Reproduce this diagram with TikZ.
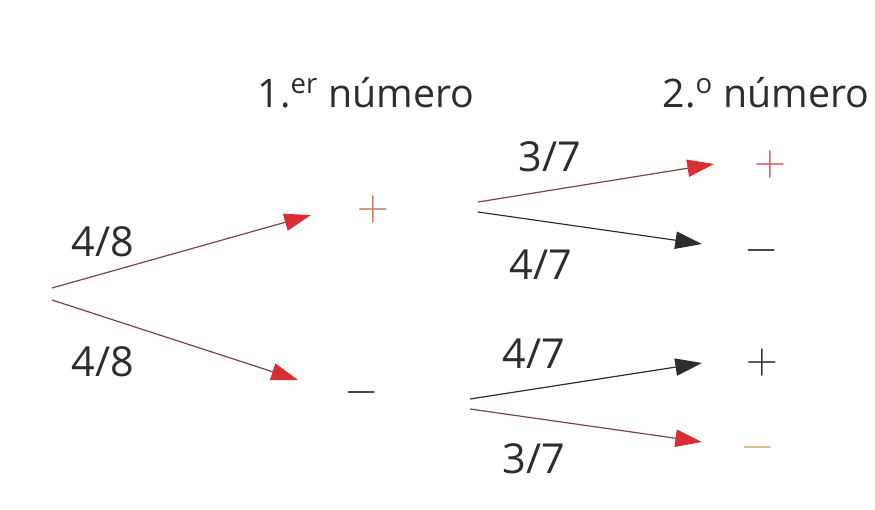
\documentclass[tikz,border=0pt]{standalone}
\usepackage{fix-cm}
\usepackage{fontspec}
\setmainfont{Open Sans}
\usetikzlibrary{arrows.meta}
\definecolor{tipred}{RGB}{214,48,52}
\definecolor{shaftred}{RGB}{120,70,70}
\definecolor{signorange}{RGB}{200,120,90}
\definecolor{signred}{RGB}{210,90,100}
\definecolor{signtan}{RGB}{222,180,130}
\definecolor{ink}{RGB}{45,45,45}
\begin{document}
\begin{tikzpicture}[x=0.75pt,y=-0.75pt,
  every node/.style={font=\fontsize{31}{36}\selectfont,text=ink},
  head/.style={anchor=base west,font=\fontsize{29.5}{34}\selectfont},
  sign/.style={inner sep=0pt,font=\fontsize{33}{33}\selectfont},
  redarrow/.style={draw=shaftred,line width=0.9pt,
    -{Triangle[length=20pt,width=13pt,color=tipred]}},
  blackarrow/.style={draw=ink,line width=0.9pt,
    -{Triangle[length=20pt,width=13pt]}}]
  \useasboundingbox (0,0) rectangle (875,510);

  % column heads
  \node[head] (head1) at (253,108) {1.\textsuperscript{er} número};
  \node[head] (head2) at (658,108) {2.\textsuperscript{o} número};

  % signs
  \node[sign,text=signorange] (p) at (373,209) {$+$};
  \node[sign] (m) at (362,392) {$-$};
  \node[sign,text=signred] (pp) at (770,165) {$+$};
  \node[sign] (pm) at (762,250) {$-$};
  \node[sign] (mp) at (762,362) {$+$};
  \node[sign,text=signtan] (mm) at (758,447) {$-$};

  % arrow ends
  \coordinate (root up) at (52,288);
  \coordinate (root down) at (52,300);
  \coordinate (to p) at (311,215);
  \coordinate (to m) at (298,380);
  \coordinate (p up) at (478,202);
  \coordinate (p down) at (478,212);
  \coordinate (to pp) at (714,164);
  \coordinate (to pm) at (702,244);
  \coordinate (m up) at (470,399);
  \coordinate (m down) at (470,409);
  \coordinate (to mp) at (702,363);
  \coordinate (to mm) at (702,442);

  \draw[redarrow] (root up) -- (to p);
  \draw[redarrow] (root down) -- (to m);
  \draw[redarrow] (p up) -- (to pp);
  \draw[blackarrow] (p down) -- (to pm);
  \draw[blackarrow] (m up) -- (to mp);
  \draw[redarrow] (m down) -- (to mm);

  % probabilities
  \node (w p) at (103,242) {4/8};
  \node (w m) at (103,362) {4/8};
  \node (w pp) at (550,157) {3/7};
  \node (w pm) at (541,265) {4/7};
  \node (w mp) at (534,354) {4/7};
  \node (w mm) at (534,459) {3/7};
\end{tikzpicture}
\end{document}
